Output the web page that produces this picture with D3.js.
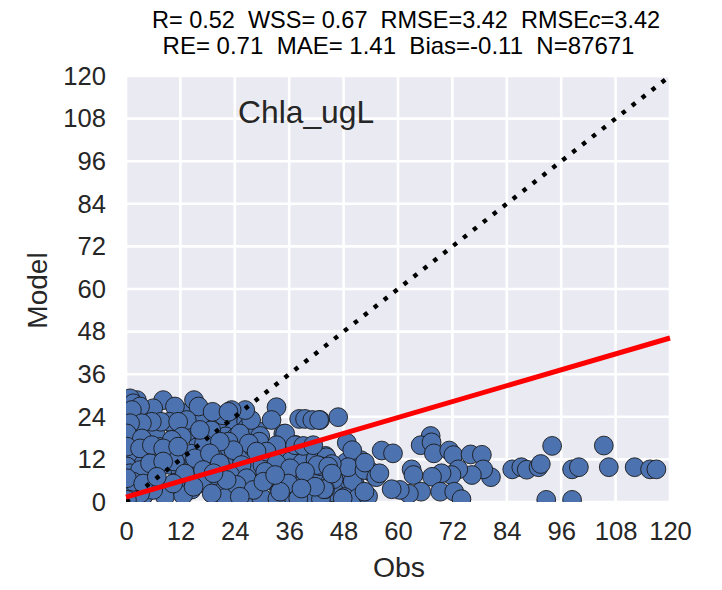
<!DOCTYPE html>
<html>
<head>
<meta charset="utf-8">
<script src="https://cdn.jsdelivr.net/npm/d3@7"></script>
<style>
  html, body { margin: 0; padding: 0; background: #fff; }
  svg { display: block; }
  text { font-family: "Liberation Sans", Arial, sans-serif; fill: #262626; }
</style>
</head>
<body>
<svg width="722" height="590"></svg>
<script>
const tickValues = [0, 12, 24, 36, 48, 60, 72, 84, 96, 108, 120];

// sparse points on the right hand side
const sparseObs = [46.8, 48.7, 49.9, 56.4, 58.9, 67.2, 65.0, 67.4, 67.9, 71.3, 72.2, 76.0, 78.5, 94.0, 105.4,
  85.2, 87.2, 88.4, 91.0, 91.5, 98.4, 99.9, 106.5, 112.2, 115.6, 117.0, 92.7, 98.4, 80.5, 78.8, 76.3, 73.3,
  71.8, 69.6, 67.5, 63.0, 63.4, 65.1, 62.4, 60.4, 58.6, 69.3, 72.4, 74.0, 52.6, 47.8, 43.9, 49.0, 52.6, 55.2,
  55.9, 52.7, 45.4, 42.8, 42.8];
const sparseModel = [23.9, 16.7, 14.6, 14.5, 13.7, 18.6, 16.0, 16.8, 13.7, 14.5, 13.2, 13.4, 13.3, 15.8, 15.9,
  9.2, 9.8, 9.1, 9.8, 10.7, 9.2, 9.8, 9.8, 9.8, 9.2, 9.2, 0.6, 0.6, 7.0, 9.2, 7.6, 9.2,
  7.6, 8.1, 7.1, 9.2, 7.6, 2.9, 2.3, 3.4, 3.6, 2.9, 2.9, 0.8, 2.9, 1.0, 3.6, 9.8, 9.0, 7.0,
  8.1, 11.1, 10.7, 10.1, 23.1];

// background of the cloud near the origin
const cloudObs = [0.5, 1.0, 2.0, 0.3, 0.8, 1.5, 2.5, 0.4, 1.2, 2.2, 0.6, 1.8, 3.0, 0.2, 1.0, 2.8, 4.2, 5.0, 6.5, 4.0, 5.5,
  9.0, 11.0, 13.0, 17.5, 21.0, 24.0, 26.5, 29.0, 31.0, 35.0, 37.0, 40.0, 44.5, 46.5, 50.5, 47.0, 50.0, 54.0,
  2.0, 4.5, 6.8, 9.5, 12.0, 14.5, 17.0, 20.0, 22.5, 26.0, 28.5, 31.5, 34.0, 36.8, 39.5, 42.0, 45.0,
  1.0, 3.5, 6.0, 8.5, 11.0, 13.5, 16.0, 18.5, 22.0, 24.5, 27.5, 30.0, 32.5, 41.0, 44.0, 36.0, 40.5,
  2.5, 5.0, 7.5, 10.0, 12.5, 15.0, 17.5, 20.5, 34.7, 37.3, 28.2, 25.1, 33.8,
  13.5, 16.2, 18.8, 21.4, 24.2, 26.8, 29.6, 14.4, 17.2, 19.9, 22.8, 25.6, 28.0, 30.8, 33.6, 36.4, 38.9, 41.8, 44.2,
  27.2, 30.1, 32.9, 35.6, 38.3, 40.9, 43.4, 46.1, 22.0, 26.0, 29.8, 33.4, 37.1, 40.2, 43.0,
  48.2, 51.2, 53.4, 45.8, 48.6, 51.8];
const cloudModel = [26.0, 23.5, 21.0, 19.5, 16.0, 15.0, 11.5, 11.0, 9.5, 8.5, 7.0, 6.0, 5.0, 3.5, 2.0, 1.2, 24.5, 20.0, 19.5, 15.0, 14.5,
  15.5, 20.5, 25.0, 22.0, 23.0, 21.5, 22.8, 20.0, 12.5, 13.5, 12.8, 13.0, 11.0, 7.5, 5.0, 4.2, 5.8, 8.5,
  3.0, 8.0, 9.5, 10.5, 9.0, 3.5, 7.0, 6.5, 8.0, 7.5, 12.5, 8.5, 6.5, 7.5, 6.0, 7.0, 5.5,
  0.6, 0.9, 4.0, 3.0, 5.5, 10.5, 16.5, 15.0, 18.5, 12.5, 14.0, 9.5, 5.8, 3.8, 13.0, 3.5, 1.0,
  12.0, 11.0, 15.5, 14.0, 13.5, 20.5, 21.5, 2.5, 19.2, 16.1, 3.6, 2.4, 2.9,
  19.8, 23.6, 20.2, 24.4, 18.2, 21.0, 18.6, 13.6, 16.4, 13.2, 15.2, 12.0, 15.4, 11.2, 12.2, 11.6, 11.0, 12.0, 12.6,
  9.6, 10.4, 9.2, 2.2, 3.0, 1.8, 1.2, 2.6, 1.2, 0.8, 1.4, 0.9, 0.7, 1.6, 0.8,
  1.4, 1.2, 1.6, 6.4, 11.2, 11.8];

// middle of the cloud, obs 22 to 46
const midObs = [33.2, 38.2, 39.5, 41.1, 42.6, 32.1, 27.6, 26.3, 23.3, 25.1, 29.4, 27.1, 22.6, 23.7, 35.1, 33.2,
  37.3, 39.1, 41.3, 31.0, 28.8, 25.5, 33.2, 42.2, 44.6, 36.2, 30.7, 39.5, 23.0, 26.6, 24.4, 28.1,
  35.8, 34.0, 38.0, 25.1, 30.3, 43.7, 45.4, 41.7, 38.7, 32.9];
const midModel = [26.7, 23.4, 23.4, 23.1, 23.1, 23.1, 23.1, 25.9, 25.9, 19.3, 17.0, 16.5, 17.0, 14.6, 19.3, 16.0,
  16.0, 15.8, 16.0, 14.2, 14.2, 10.4, 10.9, 10.4, 10.0, 9.5, 8.5, 8.5, 7.6, 6.7, 4.8, 3.4,
  5.2, 2.9, 1.0, 1.5, 5.7, 3.6, 8.0, 4.3, 3.8, 7.6];

// left part of the cloud, obs 0 to 22
const leftObs = [2.4, 0.9, 8.2, 15.0, 16.0, 6.0, 10.8, 19.1, 22.6, 1.6, 3.1, 1.3, 13.4, 9.6, 7.7, 11.5, 5.7, 3.5, 0.9,
  0.2, 3.5, 12.3, 10.1, 16.3, 20.7, 1.6, 3.8, 7.1, 15.2, 10.8, 18.5, 0.5, 0.2, 3.1, 5.7, 8.2, 11.5,
  0.2, 0.9, 3.1, 5.3, 8.2, 13.0, 17.0, 20.7, 16.7, 8.6, 12.6, 18.9, 22.2, 19.3, 14.9, 10.4, 6.0, 3.1,
  0.5, 1.6, 0.2, 0.2, 3.8, 6.8];
const leftModel = [28.7, 29.2, 28.7, 28.7, 26.9, 26.4, 26.9, 25.4, 25.4, 27.8, 26.9, 25.9, 23.1, 22.6, 22.6, 22.6, 22.6, 22.2, 22.2,
  19.3, 17.9, 18.4, 17.5, 20.3, 17.0, 12.8, 12.8, 12.3, 12.3, 11.4, 13.7, 13.7, 15.6, 15.1, 16.0, 15.1, 15.6,
  10.0, 8.1, 9.0, 10.9, 11.4, 8.0, 9.0, 10.9, 5.3, 1.5, 1.9, 2.4, 6.2, 8.1, 4.3, 5.2, 3.4, 2.4,
  3.4, 5.7, 6.7, 0.6, 5.2, 7.1];

// tight bunch in the corner, mostly outlines
const cornerObs = [0.3, 0.7, 1.1, 1.5, 1.9, 2.3, 2.7, 3.1, 3.5, 0.4, 0.9, 1.4, 1.8, 2.4, 2.9, 3.4, 0.2, 0.6, 1.0, 1.6, 2.1, 2.6, 3.2, 4.0];
const cornerModel = [3.6, 3.2, 3.9, 3.3, 4.0, 3.5, 4.2, 3.7, 4.4, 5.6, 5.2, 5.8, 5.3, 6.0, 5.5, 6.2, 1.2, 1.6, 1.1, 1.7, 1.3, 1.8, 1.4, 2.0];

// fit and 1:1 lines, ends read at the axis limits
const lineObs = [0, 120];
const fitModel = [1.4, 46.2];
const oneToOne = [0, 120];

const stats1 = "R= 0.52  WSS= 0.67  RMSE=3.42  RMSE";
const stats2 = "RE= 0.71  MAE= 1.41  Bias=-0.11  N=87671";

const svg = d3.select("svg");
const plotLeft = 126, plotRight = 670, plotTop = 76, plotBottom = 502;

const x = d3.scaleLinear().domain([0, 120]).range([plotLeft, plotRight]);
const y = d3.scaleLinear().domain([0, 120]).range([plotBottom, plotTop]);

svg.append("defs").append("clipPath").attr("id", "plot")
  .append("rect")
  .attr("x", plotLeft).attr("y", plotTop)
  .attr("width", plotRight - plotLeft).attr("height", plotBottom - plotTop);

svg.append("rect")
  .attr("x", plotLeft).attr("y", plotTop)
  .attr("width", plotRight - plotLeft).attr("height", plotBottom - plotTop)
  .attr("fill", "#eaeaf2");

// grid
const grid = svg.append("g");
grid.selectAll(".gx").data(tickValues).enter().append("line")
  .attr("class", "gx")
  .attr("x1", d => x(d)).attr("x2", d => x(d))
  .attr("y1", plotTop).attr("y2", plotBottom)
  .attr("stroke", "#fff").attr("stroke-width", 2.6);
grid.selectAll(".gy").data(tickValues).enter().append("line")
  .attr("class", "gy")
  .attr("y1", d => y(d)).attr("y2", d => y(d))
  .attr("x1", plotLeft).attr("x2", plotRight)
  .attr("stroke", "#fff").attr("stroke-width", 2.6);

const plot = svg.append("g").attr("clip-path", "url(#plot)");

const zipPoints = (a, b) => a.map((d, i) => [d, b[i]]);
const pts = zipPoints(cloudObs, cloudModel)
  .concat(zipPoints(sparseObs, sparseModel))
  .concat(zipPoints(midObs, midModel))
  .concat(zipPoints(cornerObs, cornerModel))
  .concat(zipPoints(leftObs, leftModel));

plot.selectAll("circle")
  .data(pts)
  .enter()
  .append("circle")
  .attr("cx", d => x(d[0]))
  .attr("cy", d => y(d[1]))
  .attr("r", 9.4)
  .attr("fill", "#4c72b0")
  .attr("stroke", "#1a1a1a")
  .attr("stroke-width", 0.9);

const line = d3.line().x(d => x(d[0])).y(d => y(d[1]));

plot.append("path")
  .attr("d", line(zipPoints(lineObs, oneToOne)))
  .attr("fill", "none")
  .attr("stroke", "#000")
  .attr("stroke-width", 4.4)
  .attr("stroke-dasharray", "4.4 8.2");

svg.append("path")
  .attr("d", line(zipPoints(lineObs, fitModel)))
  .attr("fill", "none")
  .attr("stroke", "#ff0000")
  .attr("stroke-width", 5);

// axes
const xAxis = svg.append("g")
  .attr("transform", `translate(0,${plotBottom})`)
  .call(d3.axisBottom(x).tickValues(tickValues).tickSize(0).tickPadding(20).tickFormat(d3.format("d")));
const yAxis = svg.append("g")
  .attr("transform", `translate(${plotLeft},0)`)
  .call(d3.axisLeft(y).tickValues(tickValues).tickSize(0).tickPadding(20).tickFormat(d3.format("d")));
xAxis.select(".domain").remove();
yAxis.select(".domain").remove();
svg.selectAll(".tick text")
  .style("font-family", '"Liberation Sans", Arial, sans-serif')
  .style("font-size", "25.6px")
  .style("fill", "#262626");

svg.append("text")
  .attr("x", 399).attr("y", 577)
  .attr("text-anchor", "middle")
  .style("font-size", "28.4px")
  .text("Obs");

svg.append("text")
  .attr("transform", "translate(47,290.5) rotate(-90)")
  .attr("text-anchor", "middle")
  .style("font-size", "28px")
  .text("Model");

svg.append("text")
  .attr("x", 238).attr("y", 123)
  .style("font-size", "31.8px")
  .text("Chla_ugL");

const t1 = svg.append("text")
  .attr("x", 406).attr("y", 28)
  .attr("text-anchor", "middle")
  .style("font-size", "23.5px")
  .style("fill", "#000")
  .style("white-space", "pre")
  .text(stats1);
t1.append("tspan").style("font-style", "italic").text("c");
t1.append("tspan").text("=3.42");

svg.append("text")
  .attr("x", 398.5).attr("y", 54)
  .attr("text-anchor", "middle")
  .style("font-size", "24px")
  .style("fill", "#000")
  .style("white-space", "pre")
  .text(stats2);
</script>
</body>
</html>
